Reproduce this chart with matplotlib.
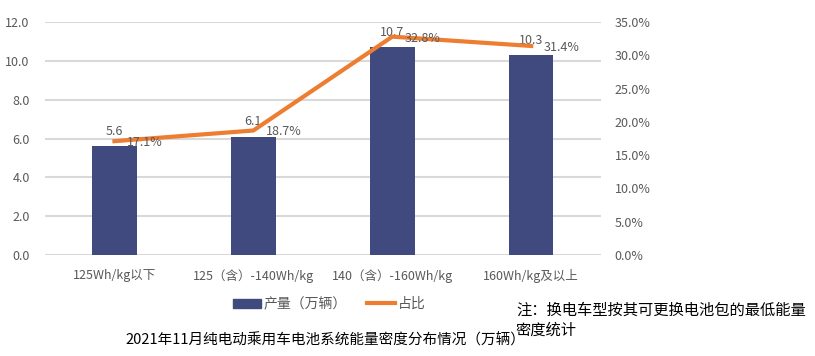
import matplotlib
matplotlib.use("Agg")
import matplotlib.pyplot as plt
from matplotlib.ticker import FuncFormatter

plt.rcParams['font.family'] = ['Noto Sans CJK SC', 'DejaVu Sans']

# 数据
categories = ['125Wh/kg以下', '125（含）-140Wh/kg', '140（含）-160Wh/kg', '160Wh/kg及以上']
output = [5.6, 6.1, 10.7, 10.3]          # 产量（万辆）
share = [17.1, 18.7, 32.8, 31.4]          # 占比 %

bar_color = '#404A7E'
line_color = '#ED7D31'
text_color = '#595959'

fig = plt.figure(figsize=(8.15, 3.56), dpi=100)
ax1 = fig.add_axes([0.0552, 0.2837, 0.6818, 0.6545])
ax2 = ax1.twinx()

x = list(range(len(categories)))
ax1.bar(x, output, width=0.32, color=bar_color, zorder=2)
ax2.plot(x, share, color=line_color, linewidth=3, zorder=3)

# 柱子数据标签
for xi, v in zip(x, output):
    ax1.annotate(f'{v:.1f}', (xi, v), xytext=(0, 6), textcoords='offset points',
                 ha='center', va='bottom', fontsize=9, color=text_color)
# 折线数据标签
for xi, v in zip(x, share):
    ax2.annotate(f'{v:.1f}%', (xi, v), xytext=(9, -1), textcoords='offset points',
                 ha='left', va='center', fontsize=9, color=text_color)

ax1.set_xlim(-0.5, 3.5)
ax1.set_ylim(0, 12)
ax2.set_ylim(0, 35)
ax1.set_yticks([0, 2, 4, 6, 8, 10, 12])
ax2.set_yticks([0, 5, 10, 15, 20, 25, 30, 35])
ax1.yaxis.set_major_formatter(FuncFormatter(lambda v, p: f'{v:.1f}'))
ax2.yaxis.set_major_formatter(FuncFormatter(lambda v, p: f'{v:.1f}%'))
ax1.set_xticks(x)
ax1.set_xticklabels(categories)

ax1.grid(axis='y', color='#d9d9d9', linewidth=1.5, zorder=0)
ax1.set_axisbelow(True)
for ax in (ax1, ax2):
    for s in ax.spines.values():
        s.set_visible(False)
    ax.tick_params(length=0, labelsize=9, colors=text_color)
ax1.tick_params(axis='x', pad=10)
ax1.tick_params(axis='y', pad=11)
ax2.tick_params(axis='y', pad=10)

# 图例
h1 = plt.Rectangle((0, 0), 1, 1, color=bar_color)
h2 = plt.Line2D([0], [0], color=line_color, linewidth=3)
fig.legend([h1, h2], ['产量（万辆）', '占比'], loc='center', bbox_to_anchor=(0.404, 0.146),
           ncol=2, frameon=False, fontsize=10, labelcolor=text_color,
           handlelength=2.0, handleheight=0.6, handletextpad=0.25, columnspacing=1.4)

fig.text(0.633, 0.101, '注：换电车型按其可更换电池包的最低能量\n密度统计', fontsize=11,
         color='#000000', va='center', ha='left', linespacing=1.2)
fig.text(0.399, 0.045, '2021年11月纯电动乘用车电池系统能量密度分布情况（万辆）', fontsize=10.5,
         color='#000000', ha='center', va='center')

fig.savefig('out.png', dpi=100)
